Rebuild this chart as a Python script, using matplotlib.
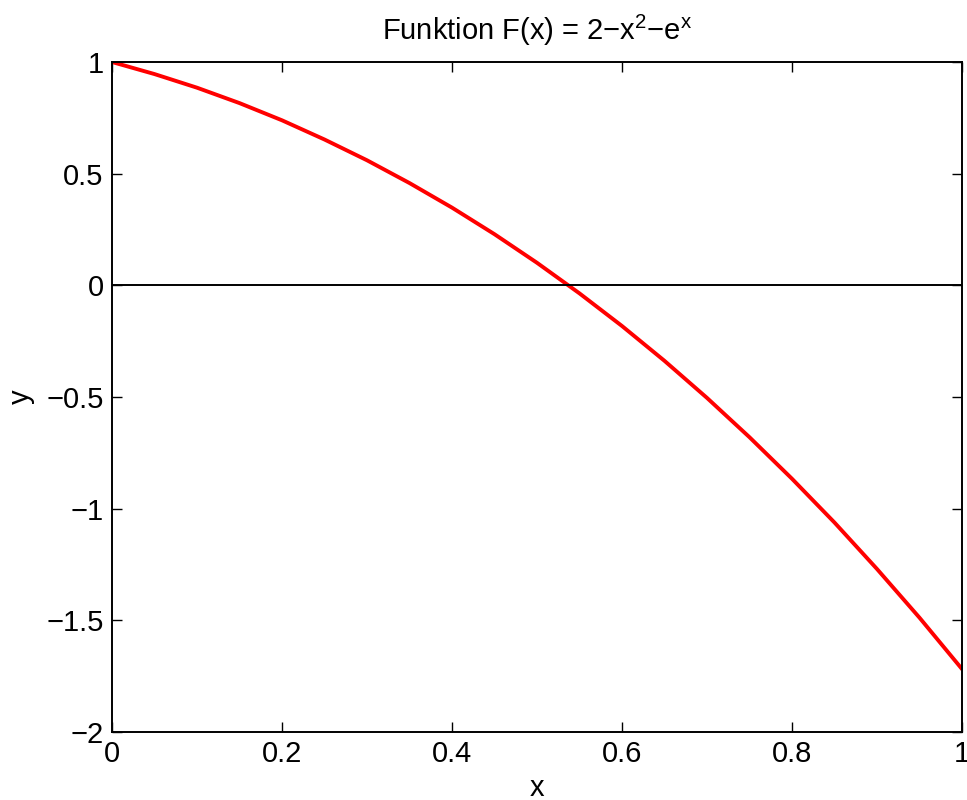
import matplotlib
matplotlib.use("Agg")
import matplotlib.pyplot as plt

plt.rcParams['font.family'] = ['Liberation Sans', 'DejaVu Sans']
plt.rcParams['mathtext.fontset'] = 'custom'
plt.rcParams['mathtext.rm'] = 'Liberation Sans'
plt.rcParams['mathtext.it'] = 'Liberation Sans'
plt.rcParams['axes.unicode_minus'] = True

# values
x_vals = [0.0, 0.05, 0.1, 0.15, 0.2, 0.25, 0.3, 0.35, 0.4, 0.45, 0.5,
          0.55, 0.6, 0.65, 0.7, 0.75, 0.8, 0.85, 0.9, 0.95, 1.0]
y_vals = [1.0, 0.946, 0.885, 0.816, 0.739, 0.653, 0.560, 0.458, 0.348, 0.229, 0.101,
          -0.036, -0.182, -0.338, -0.504, -0.680, -0.866, -1.062, -1.270, -1.488, -1.718]
zero_x = [0, 1]
zero_y = [0, 0]

x_ticks = [0, 0.2, 0.4, 0.6, 0.8, 1]
x_labels = ["0", "0.2", "0.4", "0.6", "0.8", "1"]
y_ticks = [-2, -1.5, -1, -0.5, 0, 0.5, 1]
y_labels = ["\u22122", "\u22121.5", "\u22121", "\u22120.5", "0", "0.5", "1"]

fig = plt.figure(figsize=(9.67, 8), dpi=100)
ax = fig.add_axes([0.1158, 0.085, 0.879, 0.8375])

ax.plot(x_vals, y_vals, color='red', linewidth=2.8)
ax.plot(zero_x, zero_y, color='black', linewidth=1.4)

ax.set_xlim(0, 1)
ax.set_ylim(-2, 1)
ax.set_xticks(x_ticks)
ax.set_xticklabels(x_labels)
ax.set_yticks(y_ticks)
ax.set_yticklabels(y_labels)
ax.tick_params(direction='in', length=7, width=1, labelsize=21,
               top=True, right=True, pad=6)
for s in ax.spines.values():
    s.set_linewidth(1.4)

ax.set_title(r"Funktion F(x) = 2$-$x$^2$$-$e$^x$", fontsize=21, pad=16)
ax.set_xlabel("x", fontsize=21, labelpad=4)
ax.set_ylabel("y", fontsize=21, labelpad=8)

fig.savefig("out.png", dpi=100)
